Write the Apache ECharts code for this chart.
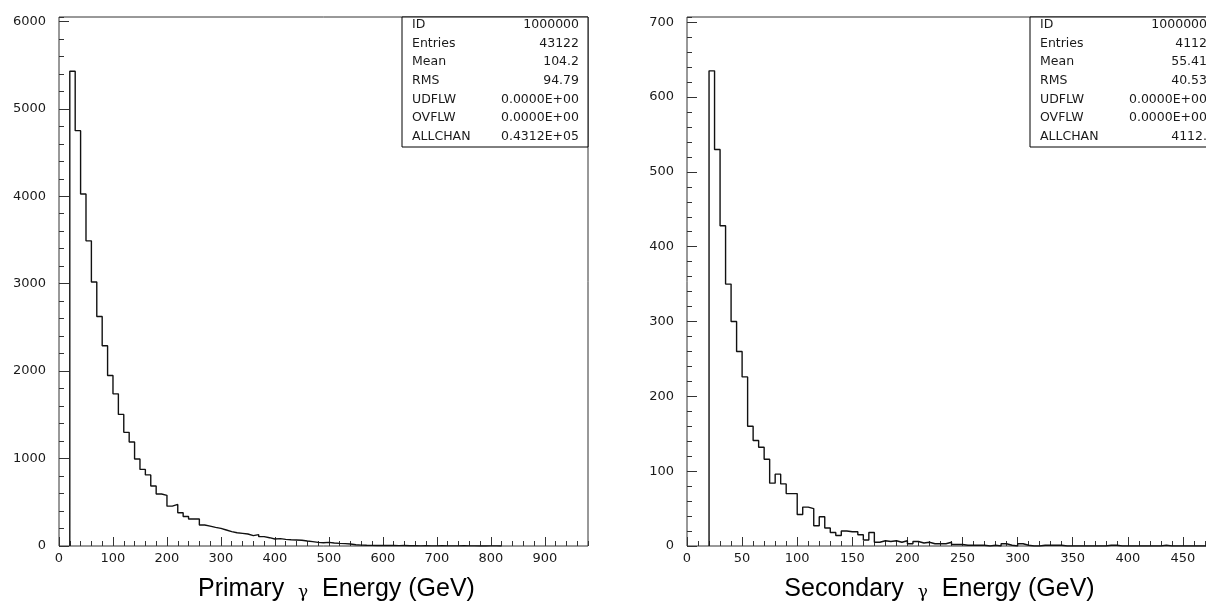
<!DOCTYPE html>
<html><head><meta charset="utf-8">
<script src="https://cdn.jsdelivr.net/npm/echarts@6/dist/echarts.min.js"></script>
<style>html,body{margin:0;padding:0;background:#fff}#c{width:1206px;height:605px}</style>
</head><body><div id="c"></div>
<script>
// ---- data ----
const primaryBinStart = 20;
const primaryBinWidth = 10;
const primaryCounts = [5430,4750,4025,3490,3020,2625,2290,1950,1740,1505,1300,1190,995,876,813,686,595,579,456,476,
  381,337,309,309,240,228,213,202,183,164,152,145,137,118,130,107,95,80,84,76,72,69,65,57,50,42,38,42,34,30,27,23,15,10,
  8,7,6,5,6,5,4,5,3,4,2,3,2,2,4,2,1,2,3,1,1,0,0,2,1,0];
const secondaryBinStart = 20;
const secondaryBinWidth = 5;
const secondaryCounts = [635,530,428,350,300,260,226,160,141,132,116,84,96,83,70,70,42,52,50,27,39,24,18,14,20,19,19,15,8,18,
  5,7,6,7,5,7,3,6,4,5,3,3,3,5,2,2,1,1,1,1,0,1,0,3,1,0,3,1,0,0,1,1,1,1,0,0,0,0,0,0,0,0,1,1,0,0,0,0,0,0,0,0,1,0,0,0,0,0,0,0,0,0];
const primaryXTicks = {min:0, max:980, major:100, minor:20};
const primaryYTicks = {min:0, max:6050, major:1000, minor:200};
const secondaryXTicks = {min:0, max:480, major:50, minor:10};
const secondaryYTicks = {min:0, max:707, major:100, minor:20};
const statLabels = ['ID','Entries','Mean','RMS','UDFLW','OVFLW','ALLCHAN'];
const primaryStats = ['1000000','43122','104.2','94.79','0.0000E+00','0.0000E+00','0.4312E+05'];
const secondaryStats = ['1000000','4112','55.41','40.53','0.0000E+00','0.0000E+00','4112.'];
const primaryTitle = ['Primary  ', 'γ', '  Energy (GeV)'];
const secondaryTitle = ['Secondary  ', 'γ', '  Energy (GeV)'];

// ---- layout ----
const G1 = {left:59, top:17, width:529, height:529};
const G2 = {left:687, top:17, width:529, height:529};
const LABEL_FONT = 'DejaVu Sans';
const INK = '#1a1a1a';

function histPoints(start, width, counts){
  const pts = [[start, 0]];
  counts.forEach((v,i)=>pts.push([start + i*width, v]));
  pts.push([start + counts.length*width, 0]);
  return pts;
}
const plain = v => String(v);

function mainX(grid, t, name, namePad){
  return {type:'value', gridIndex:grid, min:t.min, max:t.max, interval:t.major,
    axisLine:{show:false}, splitLine:{show:false},
    axisTick:{show:true, inside:true, length:9, lineStyle:{color:'#333', width:1}},
    axisLabel:{show:true, margin:6, showMaxLabel:false, formatter:plain, fontFamily:LABEL_FONT, fontSize:13, color:INK},
    name:name, nameLocation:'middle', nameGap:31,
    nameTextStyle:{fontFamily:'Liberation Sans', fontSize:25, color:'#000', padding:namePad,
      rich:{g:{fontFamily:'DejaVu Serif', fontSize:17, color:'#000', padding:[7,0,0,0]}}}
  };
}
function minorX(grid, t){
  return {type:'value', gridIndex:grid, min:t.min, max:t.max, interval:t.minor,
    axisLine:{show:false}, splitLine:{show:false}, axisLabel:{show:false},
    axisTick:{show:true, inside:true, length:5, lineStyle:{color:'#333', width:1}}};
}
function mainY(grid, t){
  return {type:'value', gridIndex:grid, min:t.min, max:t.max, interval:t.major,
    axisLine:{show:false}, splitLine:{show:false},
    axisTick:{show:true, inside:true, length:10, lineStyle:{color:'#333', width:1}},
    axisLabel:{show:true, margin:13, showMaxLabel:false, formatter:plain, fontFamily:LABEL_FONT, fontSize:13, color:INK}};
}
function minorY(grid, t){
  return {type:'value', gridIndex:grid, min:t.min, max:t.max, interval:t.minor,
    axisLine:{show:false}, splitLine:{show:false}, axisLabel:{show:false},
    axisTick:{show:true, inside:true, length:5, lineStyle:{color:'#333', width:1}}};
}
function statBox(G, values){
  const w = 186, h = 130, x0 = G.left + G.width - w, y0 = G.top;
  const els = [{type:'rect', shape:{x:x0, y:y0, width:w, height:h},
    style:{fill:'#fff', stroke:'#000', lineWidth:1}, z:100}];
  statLabels.forEach((lab,i)=>{
    const y = y0 + 8 + i*18.6;
    els.push({type:'text', x:x0+10, y:y, z:101,
      style:{text:lab, font:'12.5px "DejaVu Sans"', fill:INK, textAlign:'left', textVerticalAlign:'middle'}});
    els.push({type:'text', x:x0+w-9, y:y, z:101,
      style:{text:values[i], font:'12.5px "DejaVu Sans"', fill:INK, textAlign:'right', textVerticalAlign:'middle'}});
  });
  return els;
}
function titleText(parts){ return parts[0] + '{g|' + parts[1] + '}' + parts[2]; }

const gridStyle = {show:true, borderColor:'#333', borderWidth:1, backgroundColor:'transparent', containLabel:false, outerBoundsMode:'none'};
const option = {
  animation:false,
  backgroundColor:'#fff',
  grid:[
    Object.assign({}, G1, gridStyle),
    Object.assign({}, G1, gridStyle, {show:false}),
    Object.assign({}, G2, gridStyle),
    Object.assign({}, G2, gridStyle, {show:false})
  ],
  xAxis:[
    mainX(0, primaryXTicks, titleText(primaryTitle), [0,0,0,26]),
    minorX(1, primaryXTicks),
    mainX(2, secondaryXTicks, titleText(secondaryTitle), [0,24,0,0]),
    minorX(3, secondaryXTicks)
  ],
  yAxis:[
    mainY(0, primaryYTicks), minorY(1, primaryYTicks),
    mainY(2, secondaryYTicks), minorY(3, secondaryYTicks)
  ],
  series:[
    {type:'line', xAxisIndex:0, yAxisIndex:0, step:'end', symbol:'none',
     lineStyle:{color:'#111', width:1.4}, data:histPoints(primaryBinStart, primaryBinWidth, primaryCounts)},
    {type:'line', xAxisIndex:2, yAxisIndex:2, step:'end', symbol:'none',
     lineStyle:{color:'#111', width:1.4}, data:histPoints(secondaryBinStart, secondaryBinWidth, secondaryCounts)}
  ],
  graphic: statBox(G1, primaryStats).concat(statBox(G2, secondaryStats))
};
const chart = echarts.init(document.getElementById('c'), null, {renderer:'canvas'});
chart.setOption(option);
</script>
</body></html>
